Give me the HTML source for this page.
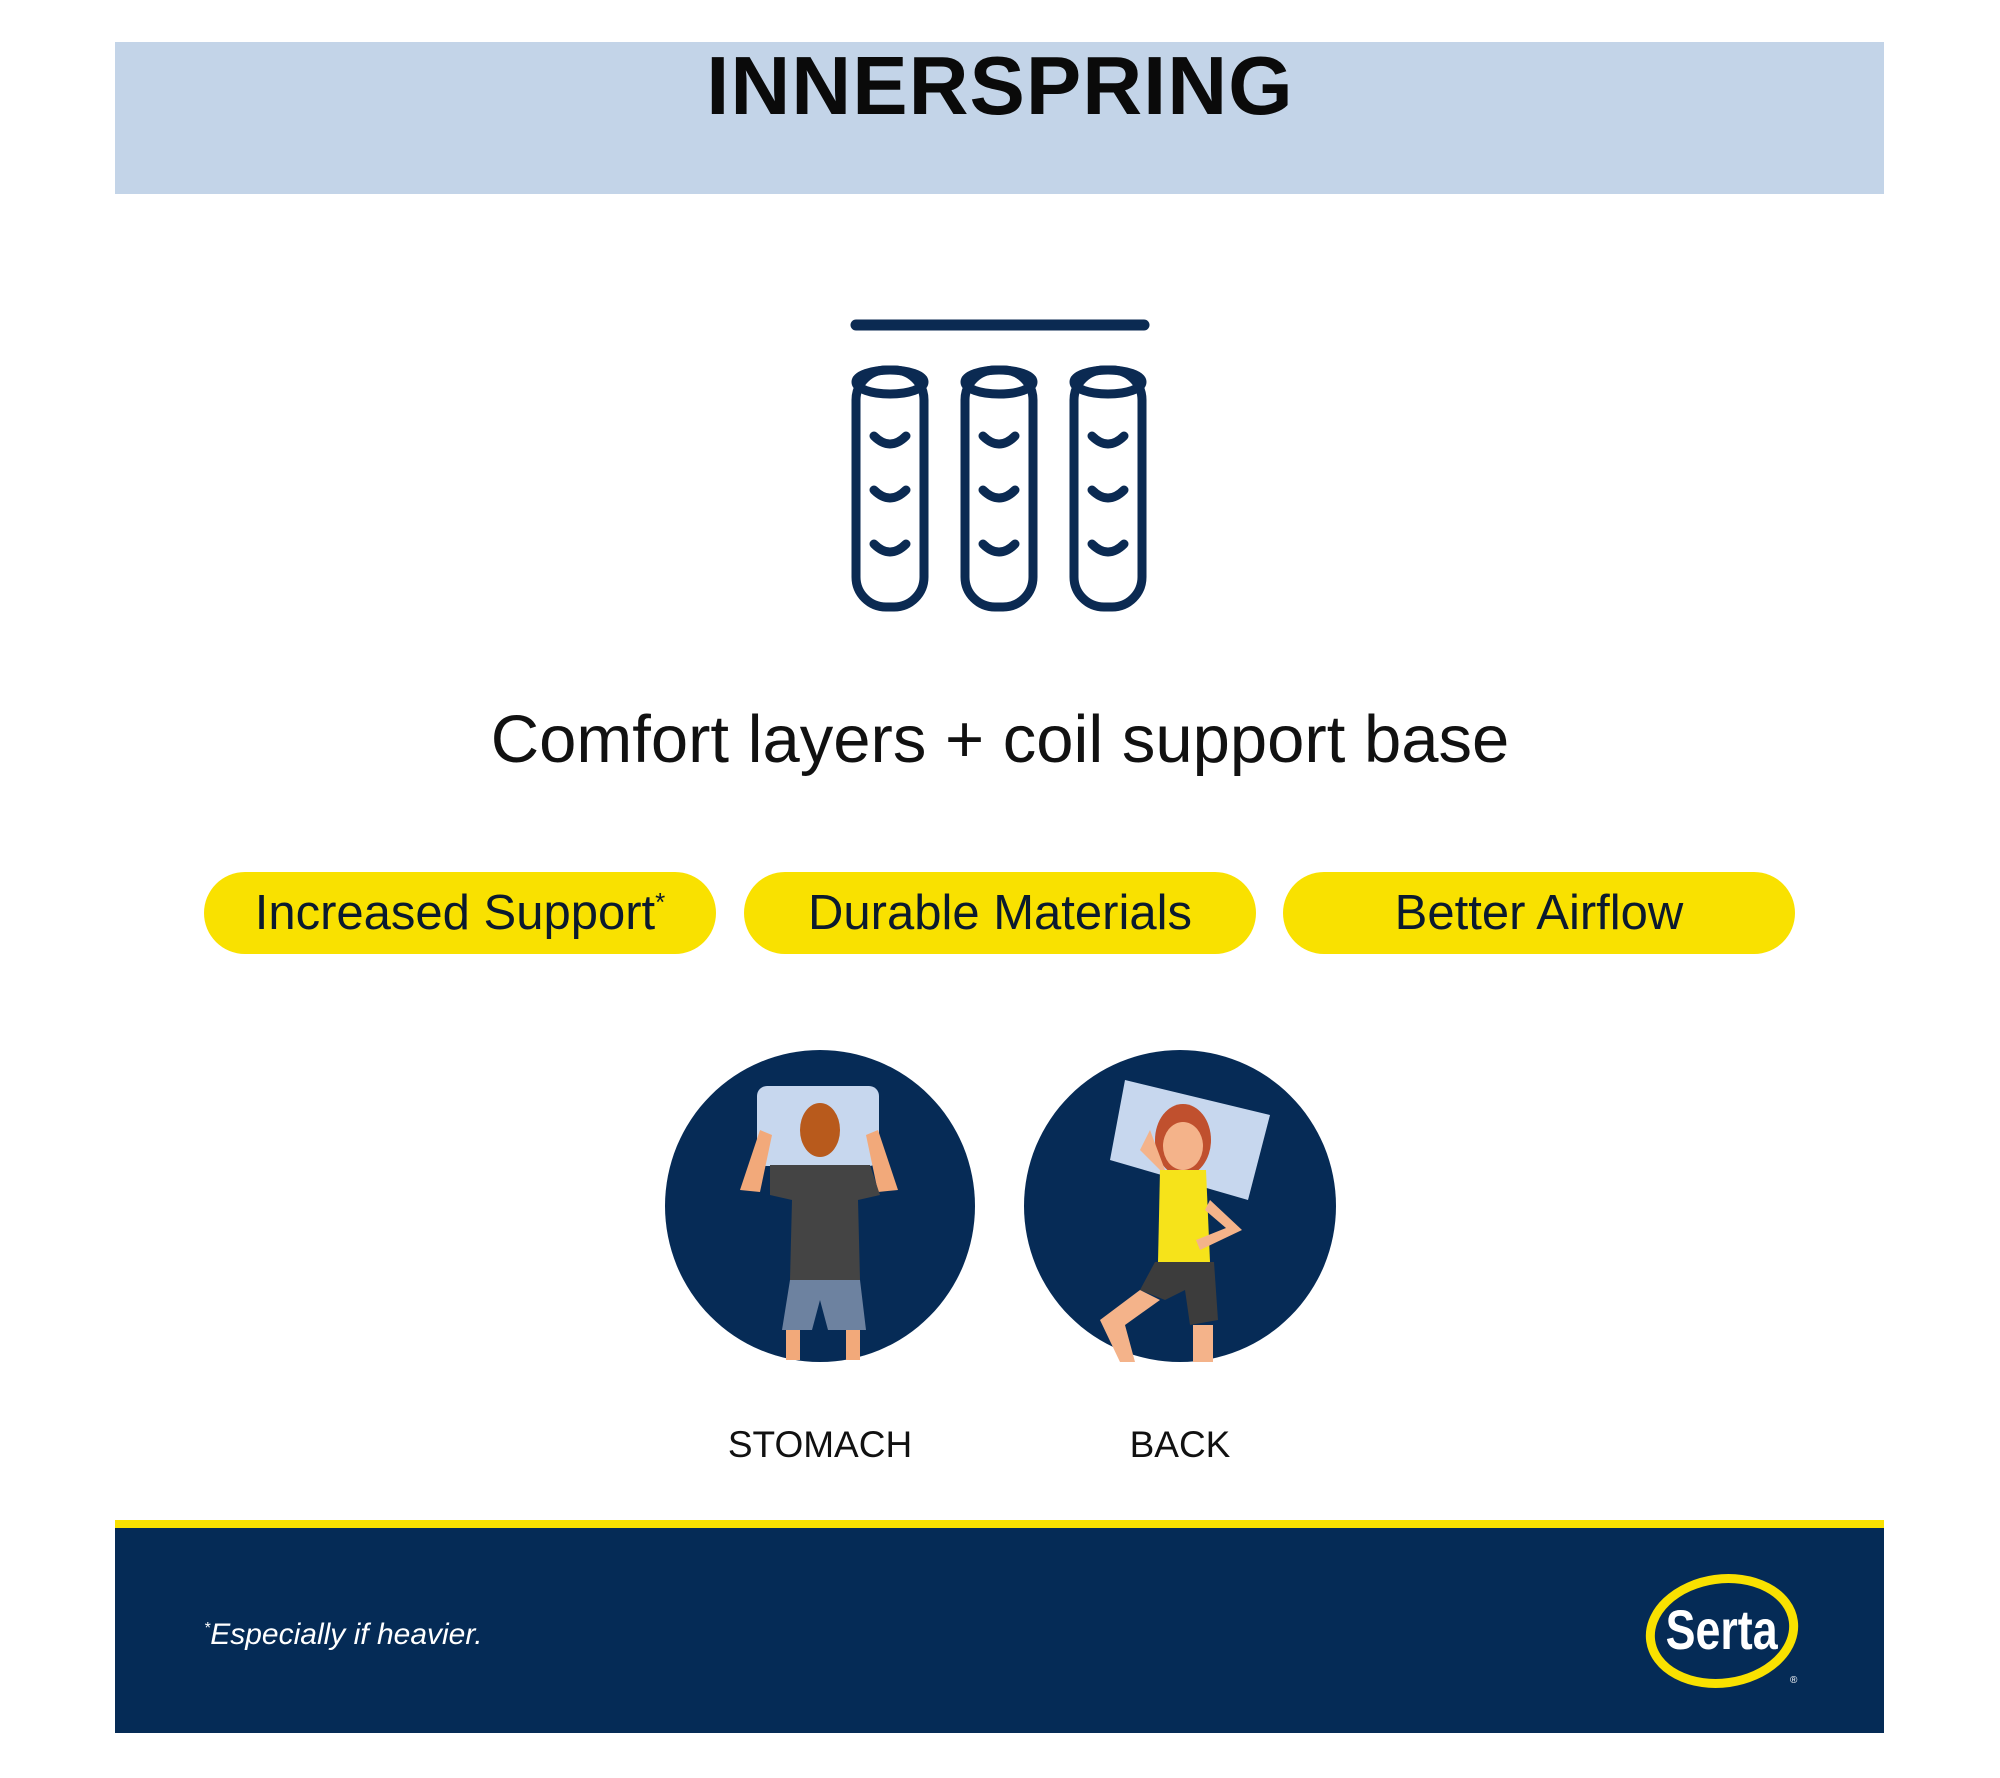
<!DOCTYPE html>
<html><head><meta charset="utf-8"><style>
html,body{margin:0;padding:0;background:#fff;}
body{width:2000px;height:1778px;position:relative;overflow:hidden;font-family:"Liberation Sans",sans-serif;}
.abs{position:absolute;}
.pill{position:absolute;top:872px;height:82px;width:512px;border-radius:41px;background:#f9e100;color:#0b1a2e;font-size:49px;line-height:82px;text-align:center;}
</style></head><body>
<div class="abs" style="left:115px;top:42px;width:1769px;height:152px;background:#c3d4e8;"></div>
<div class="abs" style="left:0;width:2000px;top:38px;text-align:center;font-size:83px;font-weight:bold;color:#0a0a0a;letter-spacing:1px;">INNERSPRING</div>

<svg class="abs" style="left:0;top:0" width="2000" height="1778">
 <line x1="856" y1="325" x2="1144" y2="325" stroke="#0b2a52" stroke-width="11" stroke-linecap="round"/>
 <g fill="none" stroke="#0b2a52" stroke-width="9" stroke-linecap="round">
  <g id="c1">
   <rect x="856" y="370" width="68" height="237" rx="30"/>
   <ellipse cx="890" cy="382" rx="34" ry="12"/>
   <path d="M874 436 Q890 452 906 436"/>
   <path d="M874 490 Q890 506 906 490"/>
   <path d="M874 544 Q890 560 906 544"/>
  </g>
  <use href="#c1" x="109"/>
  <use href="#c1" x="218"/>
 </g>
 <ellipse cx="820" cy="1206" rx="155" ry="156" fill="#062b56"/>
 <ellipse cx="1180" cy="1206" rx="156" ry="156" fill="#062b56"/>
 <rect x="757" y="1086" width="122" height="80" rx="10" fill="#c7d7ee"/>
 <path d="M740 1190 L760 1130 L772 1135 L760 1192 Z" fill="#f2a97a"/>
 <path d="M898 1190 L878 1130 L866 1135 L878 1192 Z" fill="#f2a97a"/>
 <path d="M770 1165 L870 1165 L880 1195 L858 1200 L860 1280 L790 1280 L792 1200 L770 1195 Z" fill="#444"/>
 <path d="M790 1280 L860 1280 L866 1330 L828 1330 L820 1300 L812 1330 L782 1330 Z" fill="#6d82a0"/>
 <rect x="786" y="1330" width="14" height="30" fill="#f2a97a"/><rect x="846" y="1330" width="14" height="30" fill="#f2a97a"/>
 <ellipse cx="820" cy="1130" rx="20" ry="27" fill="#b85a1c"/>
 <path d="M1125 1080 L1270 1115 L1248 1200 L1110 1160 Z" fill="#c7d7ee"/>
 <ellipse cx="1183" cy="1140" rx="28" ry="36" fill="#c0502e"/>
 <ellipse cx="1183" cy="1146" rx="20" ry="24" fill="#f4b38a"/>
 <path d="M1160 1170 L1206 1170 L1210 1262 L1158 1262 Z" fill="#f6e31a"/>
 <path d="M1160 1170 L1140 1150 L1150 1130 L1165 1170Z" fill="#f4b38a"/>
 <path d="M1210 1200 L1242 1230 L1200 1250 L1196 1240 L1226 1228 L1205 1210Z" fill="#f4b38a"/>
 <path d="M1155 1262 L1214 1262 L1218 1320 L1190 1325 L1185 1290 L1165 1300 L1140 1290 Z" fill="#3c3c3c"/>
 <path d="M1140 1290 L1100 1320 L1120 1362 L1135 1362 L1125 1325 L1160 1300Z" fill="#f4b38a"/>
 <rect x="1193" y="1325" width="20" height="37" fill="#f4b38a"/>
</svg>

<div class="abs" style="left:0;width:2000px;top:701px;text-align:center;font-size:67px;color:#111;">Comfort layers + coil support base</div>

<div class="pill" style="left:204px;">Increased Support<sup style="font-size:26px;vertical-align:top;line-height:60px;">*</sup></div>
<div class="pill" style="left:744px;">Durable Materials</div>
<div class="pill" style="left:1283px;">Better Airflow</div>

<div class="abs" style="left:720px;width:200px;top:1424px;text-align:center;font-size:37px;color:#111;">STOMACH</div>
<div class="abs" style="left:1080px;width:200px;top:1424px;text-align:center;font-size:37px;color:#111;">BACK</div>

<div class="abs" style="left:115px;top:1520px;width:1769px;height:8px;background:#f9e100;"></div>
<div class="abs" style="left:115px;top:1528px;width:1769px;height:205px;background:#052b56;"></div>
<div class="abs" style="left:204px;top:1618px;font-size:30px;font-style:italic;color:#fff;"><sup style="font-size:16px;">*</sup>Especially if heavier.</div>
<svg class="abs" style="left:1640px;top:1565px" width="170" height="135">
 <ellipse cx="82" cy="66" rx="72" ry="52" fill="none" stroke="#f9e100" stroke-width="9" transform="rotate(-8 82 66)"/>
 <text x="82" y="84" text-anchor="middle" font-family="Liberation Sans Narrow, Liberation Sans, sans-serif" font-weight="bold" font-size="56" fill="#fff" transform="scale(0.8 1) translate(20 0)">Serta</text>
 <text x="150" y="118" font-size="10" fill="#fff" font-family="Liberation Sans, sans-serif">®</text>
</svg>
</body></html>
